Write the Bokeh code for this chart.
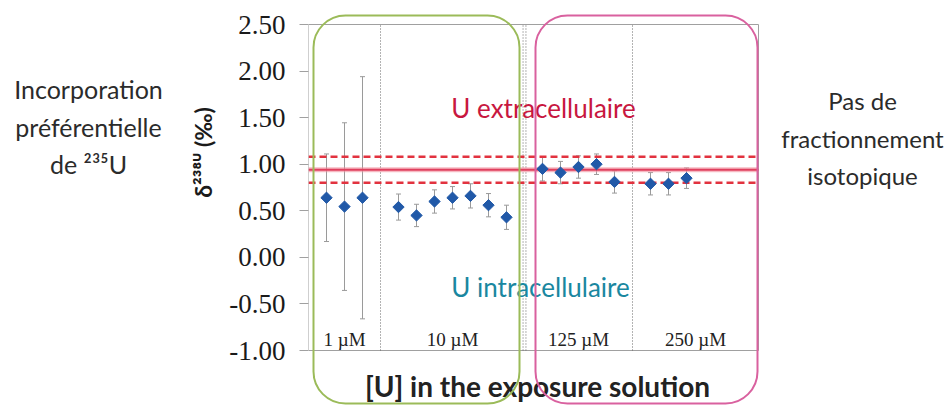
import numpy as np
from bokeh.plotting import figure
from bokeh.layouts import row
from bokeh.models import (Range1d, FixedTicker, NumeralTickFormatter, Whisker, TeeHead,
                          ColumnDataSource, BoxAnnotation)
from bokeh.core.properties import value
from bokeh.embed import file_html
from bokeh.resources import INLINE

# ---------------- data ----------------
groups = ["1 µM", "10 µM", "125 µM", "250 µM"]
delta_1uM = [0.64, 0.545, 0.64]
err_1uM = [0.47, 0.90, 1.30]
delta_10uM = [0.54, 0.45, 0.60, 0.64, 0.66, 0.56, 0.43]
err_10uM = [0.14, 0.12, 0.125, 0.12, 0.13, 0.125, 0.13]
delta_125uM = [0.95, 0.91, 0.97, 1.00, 0.81]
err_125uM = [0.13, 0.12, 0.12, 0.11, 0.12]
delta_250uM = [0.79, 0.79, 0.85]
err_250uM = [0.12, 0.12, 0.11]
extracellular_mean = 0.94
extracellular_sd = 0.14
y_ticks = [-1.0, -0.5, 0.0, 0.5, 1.0, 1.5, 2.0, 2.5]
x_title = "[U] in the exposure solution"
y_title = "δ²³⁸ᵁ (‰)"
left_note = ["Incorporation", "préférentielle", "de ²³⁵U"]
right_note = ["Pas de", "fractionnement", "isotopique"]
extra_label = "U extracellulaire"
intra_label = "U intracellulaire"

all_delta = [delta_1uM, delta_10uM, delta_125uM, delta_250uM]
all_err = [err_1uM, err_10uM, err_125uM, err_250uM]

# sample positions: consecutive slots, one empty slot between groups
xs, ys, es, bounds = [], [], [], [0.0]
pos = 0
for d, e in zip(all_delta, all_err):
    for v, er in zip(d, e):
        pos += 1
        xs.append(pos); ys.append(v); es.append(er)
    pos += 1
    bounds.append(float(pos))
X_MAX = 25.0
bounds[-1] = X_MAX
Y_MIN, Y_MAX = -1.0, 2.5

ys = np.array(ys); es = np.array(es)
src = ColumnDataSource(dict(x=xs, y=ys, upper=ys + es, lower=ys - es))

# ---------------- geometry ----------------
W, H = 944, 405
LW = 225                      # width of the left text panel
FL, FR, FT, FB = 308, 758, 24, 350   # axes box, page pixels
XS = (FR - FL) / X_MAX        # px per x unit
YS = (FB - FT) / (Y_MAX - Y_MIN)

def px_x(px):
    return (px - FL) / XS
def px_y(py):
    return Y_MAX - (py - FT) / YS

GRAY = "#a0a0a0"

# ---------------- left text panel ----------------
pl = figure(width=LW, height=H, x_range=Range1d(0, LW), y_range=Range1d(H, 0),
            x_axis_type=None, y_axis_type=None, output_backend="svg",
            toolbar_location=None, min_border=0)
pl.grid.visible = False
pl.outline_line_color = None
pl.background_fill_color = "white"
pl.border_fill_color = "white"
pl.text(x=[88] * 3, y=[88, 126, 163], text=left_note, text_font=value("Lato"),
        text_font_size="25px", text_align="center", text_baseline="alphabetic",
        text_color="#2b2b2b")
pl.text(x=[202], y=[152], text=[y_title], angle=np.pi / 2, text_font=value("Lato"),
        text_font_size="23px", text_font_style="bold", text_align="center",
        text_baseline="middle", text_color="#1a1a1a")

# ---------------- main panel ----------------
p = figure(width=W - LW, height=H,
           x_range=Range1d(px_x(FL), px_x(W)),
           y_range=Range1d(px_y(H), px_y(0)),
           x_axis_location=None, output_backend="svg", toolbar_location=None,
           min_border_left=FL - LW, min_border_right=0, min_border_top=0, min_border_bottom=0)
p.grid.visible = False
p.outline_line_color = None
p.background_fill_color = "white"
p.border_fill_color = "white"

ax = p.yaxis[0]
ax.ticker = FixedTicker(ticks=y_ticks)
ax.formatter = NumeralTickFormatter(format="0.00")
ax.major_label_text_font = "Liberation Serif"
ax.major_label_text_font_size = "27px"
ax.major_label_text_color = "#1a1a1a"
ax.major_tick_out = 9
ax.major_tick_in = 0
ax.major_tick_line_color = GRAY
ax.minor_tick_line_color = None
ax.major_label_standoff = 14
ax.axis_line_color = None

# axes box
p.quad(left=[0], right=[X_MAX], bottom=[Y_MIN], top=[Y_MAX], fill_color=None,
       line_color=GRAY, line_width=1)

# group separators (dotted)
for i, b in enumerate(bounds[1:-1]):
    locs = [b - 0.08, b + 0.08] if i == 1 else [b]
    for loc in locs:
        p.segment(x0=[loc], y0=[Y_MIN], x1=[loc], y1=[Y_MAX], line_color="#666666",
                  line_width=1, line_dash="1 2")

# extracellular mean and +/- band
p.segment(x0=[0], y0=[extracellular_mean], x1=[X_MAX], y1=[extracellular_mean],
          line_color="#f08a9a", line_width=5, line_alpha=0.6)
p.segment(x0=[0], y0=[extracellular_mean], x1=[X_MAX], y1=[extracellular_mean],
          line_color="#e0405e", line_width=2)
band = [extracellular_mean + extracellular_sd, extracellular_mean - extracellular_sd]
p.segment(x0=[0, 0], y0=band, x1=[X_MAX, X_MAX], y1=band, line_color="#e2323f",
          line_width=2.5, line_dash="7 4")

# error bars + diamonds
wk = Whisker(source=src, base="x", upper="upper", lower="lower", line_color="#9a9a9a",
             line_width=1,
             upper_head=TeeHead(size=5, line_color="#9a9a9a", line_width=1),
             lower_head=TeeHead(size=5, line_color="#9a9a9a", line_width=1))
p.add_layout(wk)
p.scatter("x", "y", source=src, marker="square", size=8, angle=np.pi / 4,
          fill_color="#2159a8", line_color="#2159a8")

# group labels
centers = [(a + b) / 2 for a, b in zip(bounds[:-1], bounds[1:])]
p.text(x=centers, y=[px_y(339)] * len(groups), text=groups,
       text_font=value("Liberation Serif"), text_font_size="19px",
       text_align="center", text_baseline="alphabetic", text_color="#222222")

# x title
p.text(x=[px_x(537)], y=[px_y(385)], text=[x_title], text_font=value("Lato"),
       text_font_size="28px", text_font_style="bold", text_align="center",
       text_baseline="alphabetic", text_color="#222222")

# in-plot notes
p.text(x=[px_x(543)], y=[px_y(107)], text=[extra_label], text_font=value("Lato"),
       text_font_size="26px", text_align="center", text_baseline="alphabetic",
       text_color="#c8173f")
p.text(x=[px_x(540)], y=[px_y(286)], text=[intra_label], text_font=value("Lato"),
       text_font_size="26px", text_align="center", text_baseline="alphabetic",
       text_color="#1a87a0")

# right notes
p.text(x=[px_x(862)] * 3, y=[px_y(v) for v in (100, 138, 175)], text=right_note,
       text_font=value("Lato"), text_font_size="24px", text_align="center",
       text_baseline="alphabetic", text_color="#2b2b2b")

# rounded highlight boxes
p.add_layout(BoxAnnotation(left=px_x(313), right=px_x(519), top=px_y(15), bottom=px_y(403),
                           fill_color=None, fill_alpha=0, line_color="#9bbb59",
                           line_alpha=1, line_width=2, border_radius=32, level="overlay"))
p.add_layout(BoxAnnotation(left=px_x(535), right=px_x(757), top=px_y(15), bottom=px_y(403),
                           fill_color=None, fill_alpha=0, line_color="#d9619f",
                           line_alpha=1, line_width=2, border_radius=32, level="overlay"))

layout = row(pl, p, spacing=0)
open("out.html", "w").write(file_html(layout, INLINE))
